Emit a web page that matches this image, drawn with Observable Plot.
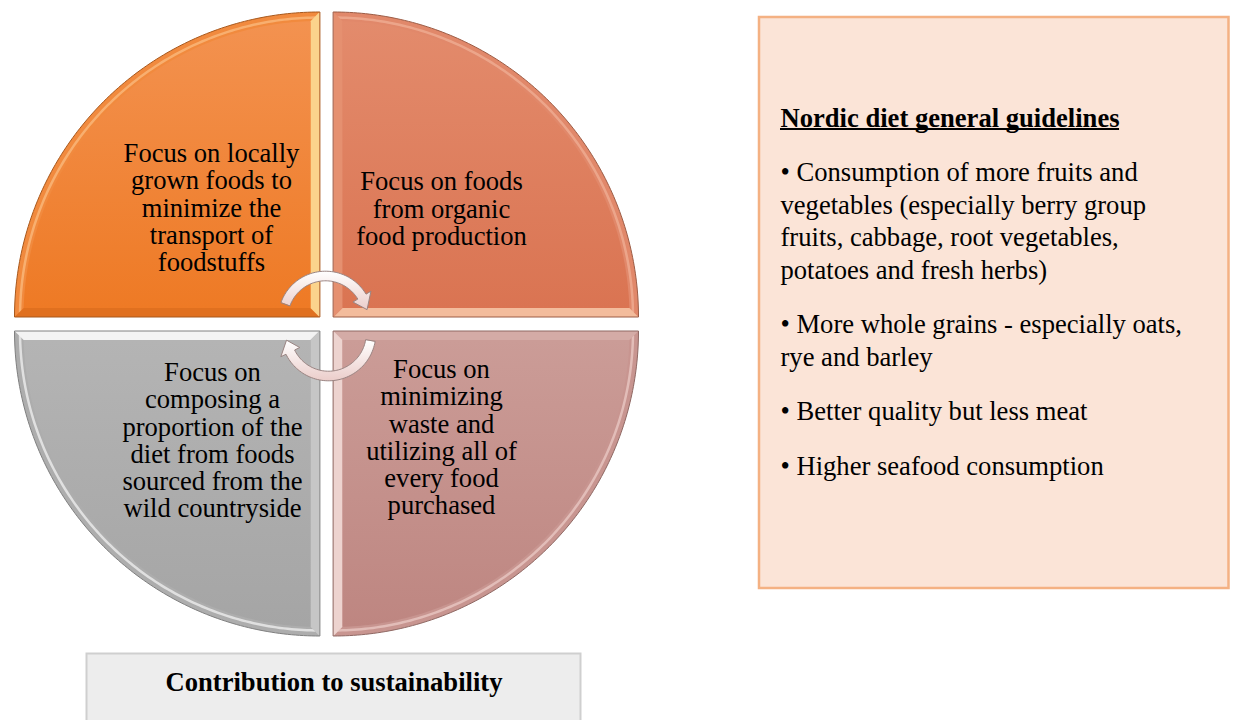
<!DOCTYPE html>
<html><head><meta charset="utf-8">
<script src="https://cdn.jsdelivr.net/npm/d3@7"></script>
<script src="https://cdn.jsdelivr.net/npm/@observablehq/plot@0.6"></script>
<style>html,body{margin:0;padding:0;background:#fff;overflow:hidden}</style>
</head><body><div id="chart"></div>
<script>
// ---------- content ----------
const segmentIds = ["tl", "tr", "bl", "br"];
const segmentLabels = [
  "Focus on locally\ngrown foods to\nminimize the\ntransport of\nfoodstuffs",
  "Focus on foods\nfrom organic\nfood production",
  "Focus on\ncomposing a\nproportion of the\ndiet from foods\nsourced from the\nwild countryside",
  "Focus on\nminimizing\nwaste and\nutilizing all of\nevery food\npurchased"
];
const segmentMain = [["#F39250", "#EE7A25"], ["#E38B6C", "#DA7452"], ["#B4B4B4", "#A5A5A5"], ["#CB9C97", "#BE8681"]];
const segmentArcEdge = ["#F18A3E", "#E1886A", "#ADADAD", "#C89590"];
const segmentHighlight = ["#F8B274", "#EDA98E", "#E6E6E6", "#E4C1BD"];
const segmentVEdge = ["#FBD38C", "#E59070", "#C6C6C6", "#EDD3CF"];
const segmentHEdge = ["#E0701F", "#F3BC9C", "#F3F3F3", "#D4ABA6"];
const segmentOutline = ["#A8581C", "#9C5C45", "#808080", "#8F6863"];

const guidelinesTitle = "Nordic diet general guidelines";
const guidelines = [
  "• Consumption of more fruits and\nvegetables (especially berry group\nfruits, cabbage, root vegetables,\npotatoes and fresh herbs)",
  "• More whole grains - especially oats,\nrye and barley",
  "• Better quality but less meat",
  "• Higher seafood consumption"
];
const footerLabel = "Contribution to sustainability";

// ---------- layout ----------
const W = 1234, H = 720;
const FONT = "Liberation Serif, 'Times New Roman', serif";
const FS = 26.6;
const R = 305, BEVEL = 9;
const corners = {tl: [319, 316.5, -1, -1], tr: [333, 316.5, 1, -1], bl: [319, 330.5, -1, 1], br: [333, 330.5, 1, 1]};
const labelPos = {tl: [211, 207.5], tr: [441, 208.5], bl: [212, 440], br: [441, 437]};
const labelLineHeight = 27.3;
const rightBox = {x1: 759, x2: 1228.5, y1: 17, y2: 588};
const footerBox = {x1: 86.5, x2: 580.5, y1: 653.5, y2: 740};
const textX = 780, titleY = 117.5, paraStep = 54.5, lineStep = 32.5;

// ---------- geometry helpers ----------
function arcPts(cx, cy, sx, sy, inset, rad) {
  const r = rad;
  const a0 = Math.asin(inset / r), a1 = Math.PI / 2 - a0;
  const pts = [];
  const n = 120;
  for (let i = 0; i <= n; i++) {
    const t = a0 + (a1 - a0) * i / n;
    pts.push([cx + sx * r * Math.cos(t), cy + sy * r * Math.sin(t)]);
  }
  return pts;
}
function quadPts(cx, cy, sx, sy, inset) {
  return [[cx + sx * inset, cy + sy * inset]].concat(arcPts(cx, cy, sx, sy, inset, R - inset));
}
function hStrip(cx, cy, sx, sy) {
  const r = R - BEVEL, e = Math.sqrt(r * r - BEVEL * BEVEL);
  return [[cx, cy], [cx + sx * R, cy], [cx + sx * e, cy + sy * BEVEL], [cx + sx * BEVEL, cy + sy * BEVEL]];
}
function vStrip(cx, cy, sx, sy) {
  const r = R - BEVEL, e = Math.sqrt(r * r - BEVEL * BEVEL);
  return [[cx, cy], [cx, cy + sy * R], [cx + sx * BEVEL, cy + sy * e], [cx + sx * BEVEL, cy + sy * BEVEL]];
}
function arrowPts(cx, cy, r, a0, aBase, aTip) {
  const w = 4.8, h = 10.5, n = 60, rad = d => d * Math.PI / 180;
  const P = (rho, a) => [cx + rho * Math.cos(rad(a)), cy - rho * Math.sin(rad(a))];
  const pts = [];
  for (let i = 0; i <= n; i++) pts.push(P(r + w, a0 + (aBase - a0) * i / n));
  pts.push(P(r + h, aBase));
  pts.push(P(r, aTip));
  pts.push(P(r - h, aBase));
  for (let i = n; i >= 0; i--) pts.push(P(r - w, a0 + (aBase - a0) * i / n));
  return pts;
}
const arrows = [
  {cx: 325, cy: 318, r: 42.5, a0: 160, aBase: 31, aTip: 12},
  {cx: 328, cy: 333, r: 42.5, a0: -10, aBase: -154, aTip: -171}
];

const toRows = pts => pts.map(([x, y]) => ({x, y}));

// ---------- gradients ----------
const gradients = segmentIds.map((id, i) => ({id: "g-" + id, stops: [[0, segmentMain[i][0]], [1, segmentMain[i][1]]]}))
  .concat([{id: "g-arrow", stops: [[0, "#FFFFFF"], [1, "#EBCDCA"]]}]);
const defsMark = () => {
  const d = d3.create("svg:defs");
  gradients.forEach(g => {
    const lg = d.append("linearGradient").attr("id", g.id).attr("x1", 0).attr("y1", 0).attr("x2", 0).attr("y2", 1);
    g.stops.forEach(([o, c]) => lg.append("stop").attr("offset", o).attr("stop-color", c));
  });
  return d.node();
};

// ---------- marks ----------
const marks = [defsMark];
segmentIds.forEach((id, i) => {
  const [cx, cy, sx, sy] = corners[id];
  marks.push(Plot.line(toRows(quadPts(cx, cy, sx, sy, 0)), {x: "x", y: "y", curve: "linear-closed", fill: segmentArcEdge[i], stroke: "none"}));
  marks.push(Plot.line(toRows(arcPts(cx, cy, sx, sy, 5, R - 5.5)), {x: "x", y: "y", fill: "none", stroke: segmentHighlight[i], strokeWidth: 2.5, strokeOpacity: 0.9}));
  marks.push(Plot.line(toRows(hStrip(cx, cy, sx, sy)), {x: "x", y: "y", curve: "linear-closed", fill: segmentHEdge[i], stroke: "none"}));
  marks.push(Plot.line(toRows(vStrip(cx, cy, sx, sy)), {x: "x", y: "y", curve: "linear-closed", fill: segmentVEdge[i], stroke: "none"}));
  marks.push(Plot.line(toRows(quadPts(cx, cy, sx, sy, BEVEL)), {x: "x", y: "y", curve: "linear-closed", fill: `url(#g-${id})`, stroke: "none"}));
  marks.push(Plot.line(toRows(quadPts(cx, cy, sx, sy, 0)), {x: "x", y: "y", curve: "linear-closed", fill: "none", stroke: segmentOutline[i], strokeWidth: 1}));
});
arrows.forEach(a => {
  marks.push(Plot.line(toRows(arrowPts(a.cx, a.cy, a.r, a.a0, a.aBase, a.aTip)), {x: "x", y: "y", curve: "linear-closed", fill: "url(#g-arrow)", stroke: "#9A8482", strokeWidth: 1}));
});

const segmentTable = segmentIds.map((id, i) => ({id, label: segmentLabels[i], x: labelPos[id][0], y: labelPos[id][1]}));
marks.push(Plot.text(segmentTable, {x: "x", y: "y", text: "label", fontFamily: FONT, fontSize: FS, fill: "#000", lineHeight: labelLineHeight / FS, textAnchor: "middle", lineAnchor: "middle"}));

// right box
marks.push(Plot.rect([rightBox], {x1: "x1", x2: "x2", y1: "y1", y2: "y2", fill: "#FBE4D7", stroke: "#F4B183", strokeWidth: 2.5}));
const lines = [];
lines.push({text: guidelinesTitle, y: titleY, bold: true});
let extra = 0;
guidelines.forEach((p, i) => {
  p.split("\n").forEach((t, j) => {
    lines.push({text: t, y: titleY + (i + 1) * paraStep + (extra + j) * lineStep, bold: false});
  });
  extra += p.split("\n").length - 1;
});
marks.push(Plot.text(lines.filter(d => d.bold), {x: () => textX, y: "y", text: "text", fontFamily: FONT, fontSize: FS, fontWeight: "bold", fill: "#000", textAnchor: "start"}));
marks.push(Plot.text(lines.filter(d => !d.bold), {x: () => textX, y: "y", text: "text", fontFamily: FONT, fontSize: FS, fill: "#000", textAnchor: "start"}));
// underline of title
const ctx = document.createElement("canvas").getContext("2d");
ctx.font = `bold ${FS}px Liberation Serif`;
const titleW = ctx.measureText(guidelinesTitle).width;
marks.push(Plot.ruleY([titleY + 11], {x1: textX, x2: textX + titleW, stroke: "#000", strokeWidth: 2}));

// footer box
marks.push(Plot.rect([footerBox], {x1: "x1", x2: "x2", y1: "y1", y2: "y2", fill: "#EDEDED", stroke: "#CFCFCF", strokeWidth: 2}));
marks.push(Plot.text([footerLabel], {x: () => (footerBox.x1 + footerBox.x2) / 2, y: () => 682, text: d => d, fontFamily: FONT, fontSize: FS, fontWeight: "bold", fill: "#000", textAnchor: "middle"}));

const chart = Plot.plot({
  width: W, height: H, margin: 0,
  x: {domain: [0, W], range: [0, W], axis: null},
  y: {domain: [0, H], range: [0, H], axis: null},
  style: {background: "#fff", overflow: "hidden"},
  marks
});
document.getElementById("chart").append(chart);
</script>
</body></html>
